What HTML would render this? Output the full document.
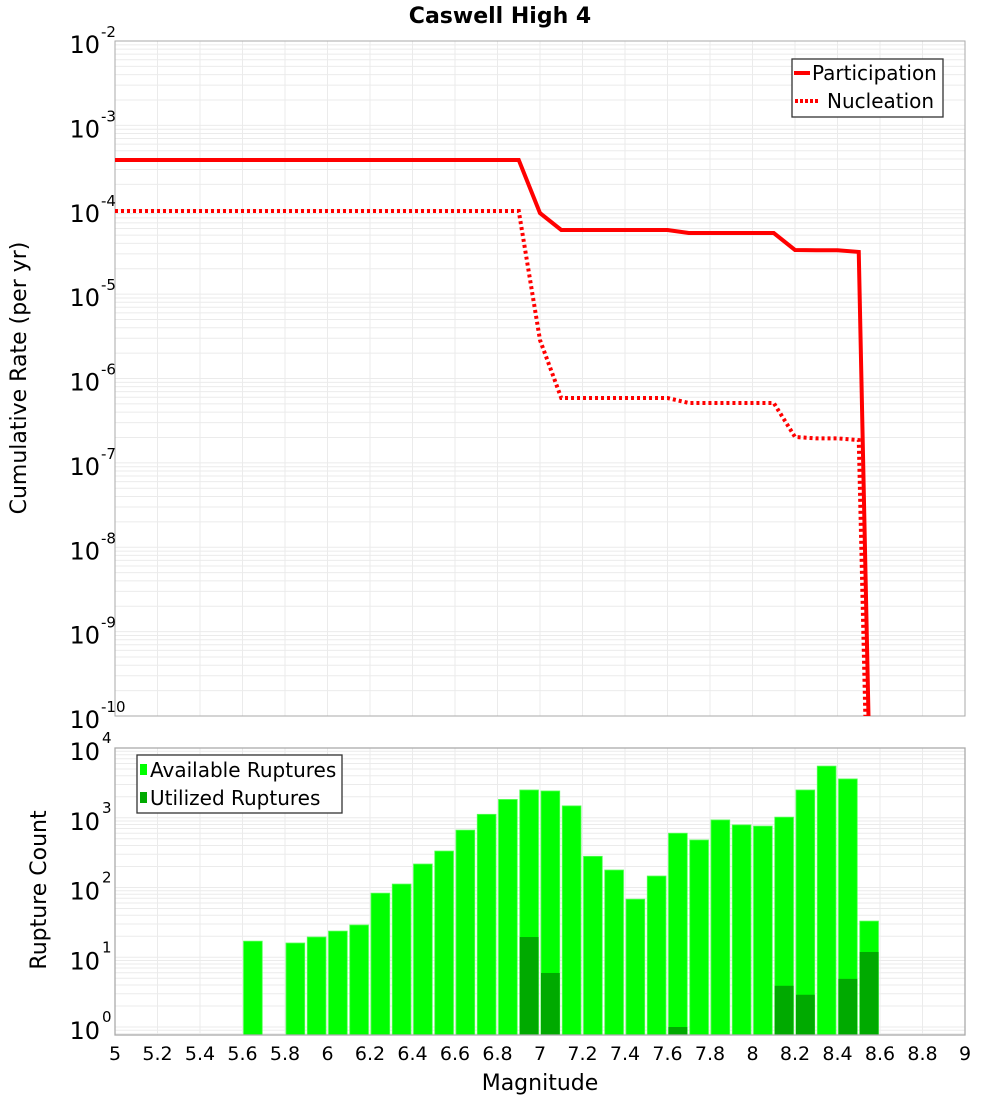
<!DOCTYPE html>
<html><head><meta charset="utf-8">
<style>
html,body{margin:0;padding:0;background:#fff;}
svg{display:block;font-family:"DejaVu Sans","Liberation Sans",sans-serif;}
</style></head>
<body>
<svg id="chart" width="1000" height="1100" viewBox="0 0 1000 1100" xmlns="http://www.w3.org/2000/svg">
<text x="500" y="23" text-anchor="middle" font-size="22" font-weight="bold">Caswell High 4</text>
<g id="topPlot"></g>
<g id="botPlot"></g>
<text transform="translate(26,378) rotate(-90)" text-anchor="middle" font-size="22">Cumulative Rate (per yr)</text>
<text transform="translate(46,890) rotate(-90)" text-anchor="middle" font-size="22">Rupture Count</text>
<text x="540" y="1090" text-anchor="middle" font-size="22">Magnitude</text>
</svg>
<script>
// Cumulative rate data (log10 values)
const partMags = [5.0, 6.9, 7.0, 7.1, 7.6, 7.7, 8.1, 8.2, 8.3, 8.4, 8.5, 8.55];
const partLog = [-3.41, -3.41, -4.04, -4.24, -4.24, -4.276, -4.276, -4.477, -4.48, -4.48, -4.50, -10.5];
const nuclMags = [5.0, 6.9, 7.0, 7.1, 7.6, 7.7, 8.1, 8.2, 8.3, 8.4, 8.5, 8.55];
const nuclLog = [-4.015, -4.015, -5.544, -6.231, -6.231, -6.29, -6.29, -6.693, -6.71, -6.71, -6.73, -12];
// Rupture count histogram
const binCenters = [5.65,5.85,5.95,6.05,6.15,6.25,6.35,6.45,6.55,6.65,6.75,6.85,6.95,7.05,7.15,7.25,7.35,7.45,7.55,7.65,7.75,7.85,7.95,8.05,8.15,8.25,8.35,8.45,8.55];
const available = [17,16,19.5,23.7,29,83,112,217,333,665,1120,1830,2500,2420,1480,280,178,68,146,600,480,930,790,760,1020,2500,5500,3600,33];
const utilMags = [6.95,7.05,7.65,8.15,8.25,8.45,8.55];
const utilized = [19.5,5.95,1.0,3.9,2.9,4.9,11.9];
const xTicks = [5,5.2,5.4,5.6,5.8,6,6.2,6.4,6.6,6.8,7,7.2,7.4,7.6,7.8,8,8.2,8.4,8.6,8.8,9];
const xTickLabels = ["5","5.2","5.4","5.6","5.8","6","6.2","6.4","6.6","6.8","7","7.2","7.4","7.6","7.8","8","8.2","8.4","8.6","8.8","9"];
const topDecades = [-2,-3,-4,-5,-6,-7,-8,-9,-10];
const botDecades = [0,1,2,3,4];

const NS = "http://www.w3.org/2000/svg";
const X0=115, X1=965;
const xs = m => X0 + (m-5)/4*(X1-X0);
const T0=41, T1=716;
const yt = l => T0 + (-2 - l)/8*(T1-T0);
const B0=748, B1=1035, B10=1027;
const yb = v => B10 - Math.log10(v)*((B10-B0)/4);

function mk(tag, attrs, parent){const e=document.createElementNS(NS,tag);for(const k in attrs)e.setAttribute(k,attrs[k]);parent.appendChild(e);return e;}

const topG = document.getElementById('topPlot');
const botG = document.getElementById('botPlot');
const defs = mk('defs',{},topG);
const cp1 = mk('clipPath',{id:'cpTop'},defs); mk('rect',{x:X0,y:T0,width:X1-X0,height:T1-T0},cp1);

// TOP grid
for(let d=-10; d<-2; d++){
  for(let k=1;k<10;k++){
    const y = yt(d+Math.log10(k));
    const g = mk('line',{x1:X0,x2:X1,y1:y,y2:y,stroke:'#ebebeb','stroke-width':1},topG);
    
    
  }
}
xTicks.forEach(m=>{
  const g = mk('line',{x1:xs(m),x2:xs(m),y1:T0,y2:T1,stroke:'#ebebeb','stroke-width':1},topG);
  
  
});
const f1 = mk('rect',{x:X0,y:T0,width:X1-X0,height:T1-T0,fill:'none',stroke:'#aaa','stroke-width':1},topG);


topDecades.forEach(d=>{
  const y=yt(d);
  const t = mk('text',{x:100,y:y+12,'text-anchor':'end','font-size':24},topG);
  
  
  t.textContent='10';
  const s = mk('text',{x:101,y:y-4,'font-size':15},topG);
  
  
  s.textContent=String(d);
});
function pts(ms,ls,f){return ms.map((m,i)=>xs(m)+','+f(ls[i])).join(' ');}
const lp = mk('polyline',{points:pts(partMags,partLog,yt),fill:'none',stroke:'#ff0000','stroke-width':4,'stroke-linejoin':'miter','clip-path':'url(#cpTop)'},topG);


const ln = mk('polyline',{points:pts(nuclMags,nuclLog,yt),fill:'none',stroke:'#ff0000','stroke-width':4,'stroke-dasharray':'3,3','clip-path':'url(#cpTop)'},topG);


// top legend
const lg = mk('g',{},topG);


mk('rect',{x:792,y:59,width:151,height:58,fill:'#fff',stroke:'#333','stroke-width':1.3},lg);
mk('line',{x1:794,x2:810,y1:73,y2:73,stroke:'#f00','stroke-width':4},lg);
const lt1=mk('text',{x:812,y:80,'font-size':20},lg); lt1.textContent='Participation';


mk('line',{x1:795,x2:820,y1:101,y2:101,stroke:'#f00','stroke-width':4,'stroke-dasharray':'3,2'},lg);
const lt2=mk('text',{x:827,y:108,'font-size':20},lg); lt2.textContent='Nucleation';



// BOTTOM grid
for(let d=-1; d<4; d++){
  for(let k=1;k<10;k++){
    const y = yb(Math.pow(10,d)*k);
    if(y<B0||y>B1) continue;
    const g = mk('line',{x1:X0,x2:X1,y1:y,y2:y,stroke:'#ebebeb','stroke-width':1},botG);
    
    
  }
}
xTicks.forEach(m=>{
  const g = mk('line',{x1:xs(m),x2:xs(m),y1:B0,y2:B1,stroke:'#ebebeb','stroke-width':1},botG);
  
  
});
binCenters.forEach((m,i)=>{
  const x = xs(m-0.05)+1, w = xs(m+0.05)-xs(m-0.05)-2.5;
  const y = yb(available[i]);
  const r = mk('rect',{x:x,y:y,width:w,height:B1-y,fill:'#00ff00',stroke:'#55ff55','stroke-width':0.8},botG);
  
  
});
utilMags.forEach((m,i)=>{
  const x = xs(m-0.05)+1, w = xs(m+0.05)-xs(m-0.05)-2.5;
  const y = yb(utilized[i]);
  const r = mk('rect',{x:x,y:y,width:w,height:B1-y,fill:'#00aa00'},botG);
  
  
});
const f2 = mk('rect',{x:X0,y:B0,width:X1-X0,height:B1-B0,fill:'none',stroke:'#aaa','stroke-width':1.3},botG);


botDecades.forEach(d=>{
  const y=yb(Math.pow(10,d));
  const t = mk('text',{x:100,y:y+12,'text-anchor':'end','font-size':24},botG);
  
  
  t.textContent='10';
  const s = mk('text',{x:102,y:y-5,'font-size':15},botG);
  
  
  s.textContent=String(d);
});
xTicks.forEach((m,i)=>{
  const t = mk('text',{x:xs(m),y:1060,'text-anchor':'middle','font-size':19},botG);
  
  
  t.textContent=xTickLabels[i];
});
// bottom legend
const lg2 = mk('g',{},botG);


mk('rect',{x:137,y:755,width:205,height:58,fill:'#fff',stroke:'#333','stroke-width':1.3},lg2);
mk('rect',{x:140,y:764,width:7,height:11,fill:'#00ff00'},lg2);
const bt1=mk('text',{x:150,y:777,'font-size':20},lg2); bt1.textContent='Available Ruptures';


mk('rect',{x:140,y:792,width:7,height:11,fill:'#00aa00'},lg2);
const bt2=mk('text',{x:150,y:805,'font-size':20},lg2); bt2.textContent='Utilized Ruptures';


</script>
</body></html>
